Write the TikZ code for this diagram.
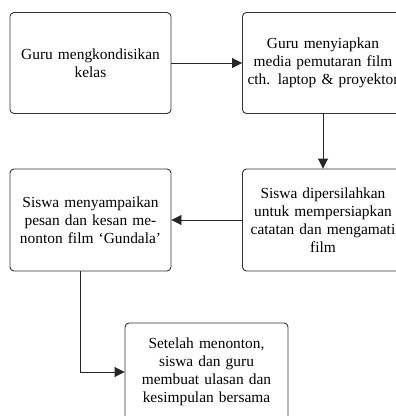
\documentclass[tikz,border=0pt]{standalone}
\usepackage{fontspec}
\setmainfont{Liberation Serif}
\usetikzlibrary{arrows.meta}

\begin{document}
\begin{tikzpicture}[x=1pt,y=-1pt,
    langkah/.style={draw=black!80, line width=0.9pt, rounded corners=4pt,
        minimum width=161pt, minimum height=101pt, text width=158pt,
        inner sep=1pt, align=center,
        font=\fontsize{15.4}{18}\selectfont},
    panah/.style={draw=black!85, line width=0.9pt,
        -{Triangle[length=10pt,width=10pt]}}]

    % area gambar
    \useasboundingbox (0,0) rectangle (396,416);

    % Baris atas
    \node[langkah] (guru1) at (90.5,63) {Guru mengkondisikan\\kelas};
    \node[langkah] (guru2) at (323,63) {Guru menyiapkan\\media pemutaran film\\cth. laptop \& proyektor};

    % Baris tengah
    \node[langkah, minimum height=102pt] (siswa2) at (323,220) {Siswa dipersilahkan\\untuk mempersiapkan\\catatan dan mengamati\\film};
    \node[langkah, minimum height=102pt] (siswa1) at (90.5,220) {Siswa menyampaikan\\pesan dan kesan me-\\nonton film `Gundala'};

    % Baris bawah
    \node[langkah, minimum width=163pt, minimum height=98pt] (akhir) at (206.5,372) {Setelah menonton,\\siswa dan guru\\membuat ulasan dan\\kesimpulan bersama};

    % Panah
    \draw[panah] (guru1) -- (guru2);
    \draw[panah] (guru2) -- (siswa2);
    \draw[panah] (siswa2) -- (siswa1);
    \draw[panah] ([xshift=-10.5pt]siswa1.south) |- (akhir.west);

\end{tikzpicture}
\end{document}
